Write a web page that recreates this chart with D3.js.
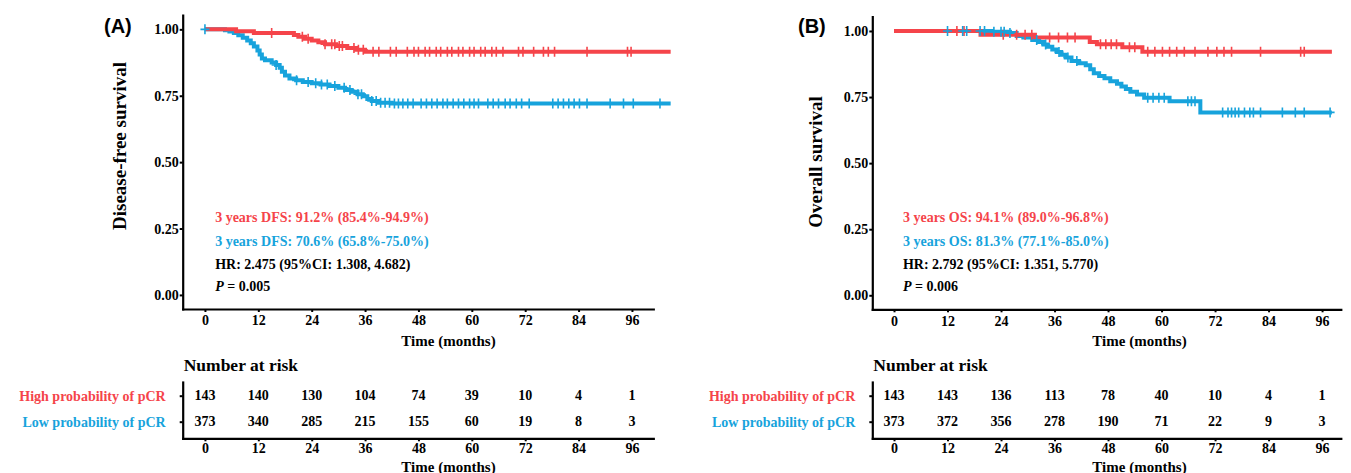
<!DOCTYPE html>
<html><head><meta charset="utf-8">
<script src="https://cdn.jsdelivr.net/npm/d3@7"></script>
<style>body{margin:0;background:#fff} svg{display:block}</style>
</head><body>
<svg id="chart" width="1351" height="473"></svg>
<script>
// ---------------- DATA ----------------
const months = [0, 12, 24, 36, 48, 60, 72, 84, 96];
const yTicks = [0, 0.25, 0.5, 0.75, 1];
const groups = ["High probability of pCR", "Low probability of pCR"];

// Panel A: disease-free survival, step points [month, survival]
const dfsHighSteps = [[0,1],[7,0.993],[11,0.986],[20,0.979],[21,0.972],[22.5,0.965],[24,0.958],[25.5,0.951],[27,0.944],[29.5,0.937],[32,0.93],[34,0.923],[36,0.916]];
const dfsLowSteps = [[0,1],[4.5,0.997],[5.5,0.992],[6.5,0.986],[7.5,0.978],[8.5,0.968],[9.5,0.958],[10.3,0.948],[11,0.935],[11.8,0.92],[12.3,0.905],[12.8,0.89],[13.5,0.884],[15,0.875],[16,0.866],[16.8,0.855],[17.3,0.84],[18,0.826],[19,0.815],[20.5,0.808],[22,0.802],[24,0.797],[26,0.792],[28,0.787],[30,0.78],[31.5,0.772],[33,0.765],[34.3,0.756],[35.5,0.748],[36.5,0.738],[37.5,0.73],[39,0.724],[42,0.721]];
const dfsEnd = 104.7;
const dfsHighCensor = [15,21.9,23.2,27,28.5,29.2,30.2,30.9,33.5,34.5,35.6,37.8,39.1,41.7,43,45.5,47,48,49.5,50.5,52,53,54.5,55.5,57,58,59.5,60.5,62,63,64.5,65.5,67,70.5,71.5,73.9,76.1,77.2,78.6,85.9,95,95.8];
const dfsLowCensor = [0,16,20.6,23.2,24.9,26.2,27.5,29.2,31.3,32.6,34.4,35.2,37.5,38.5,39.5,40.5,41.5,42.6,43.5,44.5,45.6,46.8,48.6,49.8,51,52.2,53.5,54.5,55.8,57,58.2,59.5,60.5,61.5,63.6,64.8,66,67.5,68.6,70,71.2,72.9,78.2,79.4,80.6,81.8,83,84.2,85.9,91.1,94.1,96.3,102.3];
const dfsRiskHigh = [143, 140, 130, 104, 74, 39, 10, 4, 1];
const dfsRiskLow = [373, 340, 285, 215, 155, 60, 19, 8, 3];
const dfsNotes = ["3 years DFS: 91.2% (85.4%-94.9%)", "3 years DFS: 70.6% (65.8%-75.0%)", "HR: 2.475 (95%CI: 1.308, 4.682)", "0.005"];

// Panel B: overall survival
const osHighSteps = [[0,1],[19.4,0.986],[31.6,0.975],[43.9,0.958],[45.5,0.95],[51.2,0.938],[55.7,0.921]];
const osLowSteps = [[0,1],[22,0.997],[26,0.992],[27.5,0.981],[29,0.975],[31,0.966],[32.5,0.958],[33.5,0.949],[34.5,0.94],[35.5,0.93],[36.5,0.92],[37.5,0.91],[38.5,0.9],[39.8,0.886],[41.5,0.878],[43,0.87],[44,0.855],[44.8,0.84],[46,0.83],[47.2,0.821],[48.5,0.81],[50,0.8],[51,0.79],[52,0.78],[53,0.77],[54.5,0.76],[56.1,0.747],[61.8,0.734],[68.7,0.692]];
const osEnd = 98.2;
const osHighCensor = [14.1,15.7,24.5,27.5,29.4,30.9,34.9,36.9,38.9,40.6,46.3,47.5,48.7,49.9,52.8,54,56.9,58.5,60.2,61.8,63.4,65.1,67.5,70.4,72.4,74,75.7,82.2,91.2,92];
const osLowCensor = [12,15.4,16.3,19.3,20.3,22.4,24,24.7,26,32,34,37,39,41,56.9,58.1,59.4,60.6,65.9,66.7,67.5,73.7,74.9,75.7,76.5,77.3,78.6,79.8,80.6,82.2,87.1,90,92,97.8];
const osRiskHigh = [143, 143, 136, 113, 78, 40, 10, 4, 1];
const osRiskLow = [373, 372, 356, 278, 190, 71, 22, 9, 3];
const osNotes = ["3 years OS: 94.1% (89.0%-96.8%)", "3 years OS: 81.3% (77.1%-85.0%)", "HR: 2.792 (95%CI: 1.351, 5.770)", "0.006"];

// ---------------- DRAWING ----------------
const RED = "#F5444A", BLUE = "#17A3DC";
const SERIF = "'Liberation Serif','Times New Roman',serif";
const SANS = "'Liberation Sans',Arial,sans-serif";
const svg = d3.select("#chart");

function survAt(steps, t) {
  let s = steps[0][1];
  for (const [tt, v] of steps) { if (tt <= t) s = v; else break; }
  return s;
}

function styleAxis(a) {
  a.selectAll("path.domain").attr("stroke", "#000").attr("stroke-width", 2.2).attr("stroke-linecap", "square");
  a.selectAll(".tick line").attr("stroke", "#000").attr("stroke-width", 2);
  a.selectAll(".tick text").attr("font-family", SERIF).attr("font-weight", "bold").attr("font-size", 14).attr("fill", "#000");
}

function panel(o) {
  const g = svg.append("g");
  const x = d3.scaleLinear().domain(o.xDom).range(o.xRange);
  const y = d3.scaleLinear().domain([-0.053, 1.054]).range([o.yBottom, o.yTop]);

  // main axes
  const ya = g.append("g").attr("transform", `translate(${o.xRange[0]},0)`)
    .call(d3.axisLeft(y).tickValues(yTicks).tickFormat(d3.format(".2f")).tickSize(3).tickSizeOuter(0).tickPadding(1));
  styleAxis(ya);
  const xa = g.append("g").attr("transform", `translate(0,${o.yBottom})`)
    .call(d3.axisBottom(x).tickValues(months).tickFormat(d3.format("d")).tickSize(3).tickSizeOuter(0).tickPadding(3.5));
  styleAxis(xa);

  // curves
  const line = d3.line().x(d => x(d[0])).y(d => y(d[1])).curve(d3.curveStepAfter);
  const series = [
    {steps: o.low, color: BLUE, censor: o.lowC},
    {steps: o.high, color: RED, censor: o.highC}
  ];
  series.forEach(s => {
    const pts = s.steps.concat([[o.end, s.steps[s.steps.length - 1][1]]]);
    g.append("path").datum(pts).attr("d", line).attr("fill", "none")
      .attr("stroke", s.color).attr("stroke-width", 4);
  });
  [series[1], series[0]].forEach(s => {
    g.append("g").selectAll("path").data(s.censor).join("path")
      .attr("d", t => {
        const cx = x(t), cy = y(survAt(s.steps, t));
        return `M${cx - 4.5},${cy}H${cx + 4.5}M${cx},${cy - 5}V${cy + 5}`;
      })
      .attr("stroke", s.color).attr("stroke-width", 1.6).attr("fill", "none");
  });

  // annotations
  const noteX = x(o.noteMonth);
  const notes = g.append("g").attr("font-family", SERIF).attr("font-weight", "bold").attr("font-size", 14);
  notes.append("text").attr("x", noteX).attr("y", 222).attr("fill", RED).text(o.notes[0]);
  notes.append("text").attr("x", noteX).attr("y", 245.5).attr("fill", BLUE).text(o.notes[1]);
  notes.append("text").attr("x", noteX).attr("y", 268.5).attr("fill", "#000").text(o.notes[2]);
  const pt = notes.append("text").attr("x", noteX).attr("y", 291).attr("fill", "#000");
  pt.append("tspan").attr("font-style", "italic").text("P");
  pt.append("tspan").text(" = " + o.notes[3]);

  // titles
  g.append("text").attr("transform", `translate(${o.yTitleX},${o.yTitleY}) rotate(-90)`)
    .attr("text-anchor", "middle").attr("font-family", SERIF).attr("font-weight", "bold")
    .attr("font-size", 19).text(o.yTitle);
  g.append("text").attr("x", o.timeX).attr("y", 345.5).attr("text-anchor", "middle")
    .attr("font-family", SERIF).attr("font-weight", "bold").attr("font-size", 15).text("Time (months)");
  g.append("text").attr("x", o.tagX).attr("y", 33).attr("font-family", SANS).attr("font-weight", "bold")
    .attr("font-size", 20).text(o.tag);

  // risk table
  g.append("text").attr("x", o.xRange[0] + 1).attr("y", 371).attr("font-family", SERIF)
    .attr("font-weight", "bold").attr("font-size", 17.5).text("Number at risk");
  const ry = d3.scalePoint().domain(groups).range([382, 438.3]).padding(0.583).align(0.452);
  const ra = g.append("g").attr("transform", `translate(${o.xRange[0]},0)`)
    .call(d3.axisLeft(ry).tickSize(3).tickSizeOuter(0).tickPadding(14));
  styleAxis(ra);
  ra.selectAll(".tick text").attr("fill", (d, i) => i === 0 ? RED : BLUE);
  const rxa = g.append("g").attr("transform", `translate(0,438.3)`)
    .call(d3.axisBottom(x).tickValues(months).tickFormat(d3.format("d")).tickSize(3).tickSizeOuter(0).tickPadding(1.8));
  styleAxis(rxa);
  [[o.riskHigh, groups[0]], [o.riskLow, groups[1]]].forEach(([vals, grp]) => {
    g.append("g").selectAll("text").data(vals).join("text")
      .attr("x", (d, i) => x(months[i])).attr("y", ry(grp)).attr("dy", "0.33em")
      .attr("text-anchor", "middle").attr("font-family", SERIF).attr("font-weight", "bold")
      .attr("font-size", 14).attr("fill", "#000").text(d => d);
  });
  g.append("text").attr("x", o.timeX).attr("y", 471.5).attr("text-anchor", "middle")
    .attr("font-family", SERIF).attr("font-weight", "bold").attr("font-size", 15).text("Time (months)");
}

panel({
  xDom: [-5, 100.8], xRange: [182.7, 653.3], yTop: 15, yBottom: 309,
  high: dfsHighSteps, low: dfsLowSteps, highC: dfsHighCensor, lowC: dfsLowCensor, end: dfsEnd,
  riskHigh: dfsRiskHigh, riskLow: dfsRiskLow, notes: dfsNotes, noteMonth: 2.3,
  yTitle: "Disease-free survival", yTitleX: 126, yTitleY: 146, timeX: 448.5, tag: "(A)", tagX: 104
});
panel({
  xDom: [-4.87, 100.2], xRange: [872.3, 1340.8], yTop: 16.7, yBottom: 309.3,
  high: osHighSteps, low: osLowSteps, highC: osHighCensor, lowC: osLowCensor, end: osEnd,
  riskHigh: osRiskHigh, riskLow: osRiskLow, notes: osNotes, noteMonth: 2,
  yTitle: "Overall survival", yTitleX: 822, yTitleY: 162, timeX: 1139.5, tag: "(B)", tagX: 798
});
</script>
</body></html>
